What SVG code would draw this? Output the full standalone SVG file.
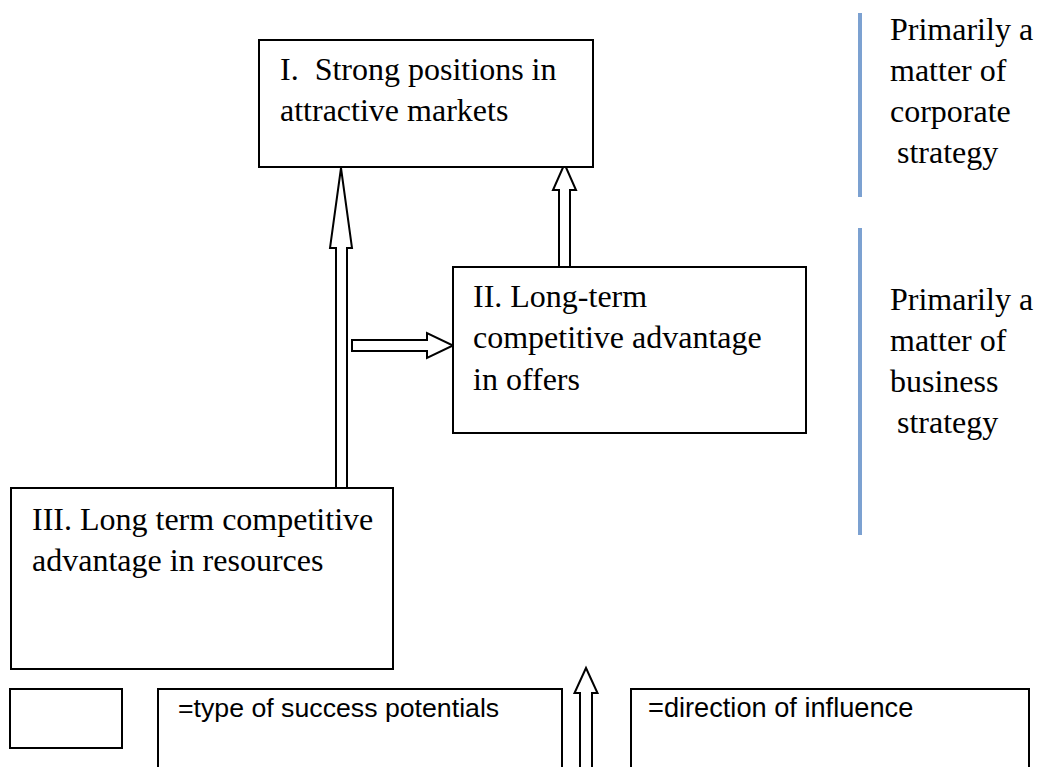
<svg xmlns="http://www.w3.org/2000/svg" width="1038" height="767" viewBox="0 0 1038 767">
  <style>
    .box { fill: #ffffff; stroke: #000000; stroke-width: 2; }
    .arrow { fill: #ffffff; stroke: #000000; stroke-width: 2; stroke-linejoin: miter; }
    .serif { font-family: "Liberation Serif", "Times New Roman", serif; font-size: 32px; fill: #000000; }
    .sans { font-family: "Liberation Sans", Arial, sans-serif; font-size: 26.7px; fill: #000000; }
    .bar { stroke: #7ca1d1; stroke-width: 4; }
  </style>
  <rect x="0" y="0" width="1038" height="767" fill="#ffffff"/>

  <g id="connectors">
    <polygon class="arrow" points="336,488 336,248 330,248 341,168 352,248 347,248 347,488"/>
    <polygon class="arrow" points="559,267 559,190 553,190 564.5,164 576,190 570,190 570,267"/>
    <polygon class="arrow" points="352,340 427,340 427,333 453,345.5 427,358 427,351 352,351"/>
  </g>

  <g id="node-I">
    <rect class="box" x="259" y="40" width="334" height="127"/>
    <text class="serif" x="280" y="80" xml:space="preserve">I.  Strong positions in</text>
    <text class="serif" x="280" y="121">attractive markets</text>
  </g>

  <g id="node-II">
    <rect class="box" x="453" y="267" width="353" height="166"/>
    <text class="serif" x="473" y="307">II. Long-term</text>
    <text class="serif" x="473" y="348">competitive advantage</text>
    <text class="serif" x="473" y="390">in offers</text>
  </g>

  <g id="node-III">
    <rect class="box" x="11" y="488" width="382" height="181"/>
    <text class="serif" x="32" y="530">III. Long term competitive</text>
    <text class="serif" x="32" y="571">advantage in resources</text>
  </g>

  <g id="label-corporate">
    <line class="bar" x1="860" y1="13" x2="860" y2="197"/>
    <text class="serif" x="890" y="40">Primarily a</text>
    <text class="serif" x="890" y="81">matter of</text>
    <text class="serif" x="890" y="122">corporate</text>
    <text class="serif" x="897" y="163">strategy</text>
  </g>

  <g id="label-business">
    <line class="bar" x1="860" y1="228" x2="860" y2="535"/>
    <text class="serif" x="890" y="310">Primarily a</text>
    <text class="serif" x="890" y="351">matter of</text>
    <text class="serif" x="890" y="392">business</text>
    <text class="serif" x="897" y="433">strategy</text>
  </g>

  <g id="legend-box-symbol">
    <rect class="box" x="10" y="689" width="112" height="59"/>
  </g>
  <g id="legend-type">
    <rect class="box" x="158" y="689" width="404" height="100"/>
    <text class="sans" x="178" y="717">=type of success potentials</text>
  </g>
  <g id="legend-arrow">
    <polygon class="arrow" points="580,790 580,693 574.5,693 586,668 597.5,693 592,693 592,790"/>
  </g>
  <g id="legend-direction">
    <rect class="box" x="631" y="689" width="398" height="100"/>
    <text class="sans" x="648" y="717" style="font-size:27.2px">=direction of influence</text>
  </g>
</svg>
